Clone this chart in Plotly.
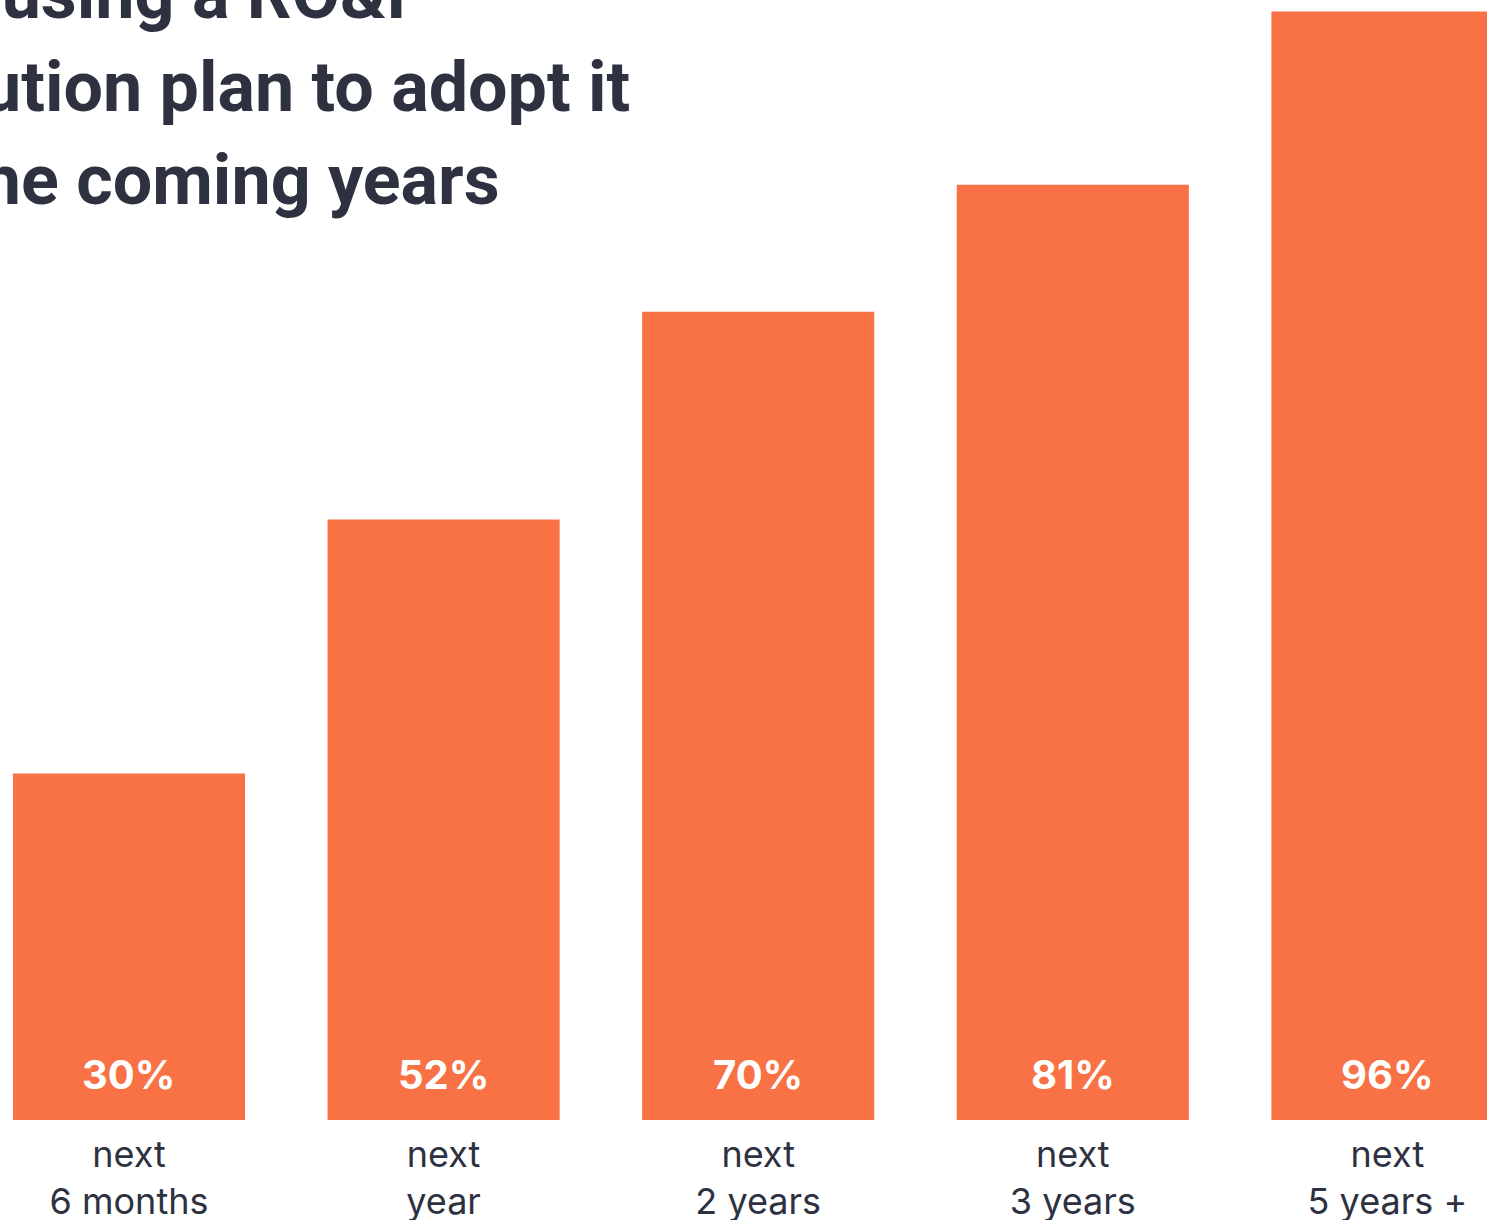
import plotly.graph_objects as go

# ---- data ----
categories = ["next<br>6 months", "next<br>year", "next<br>2 years", "next<br>3 years", "next<br>5 years +"]
values = [30, 52, 70, 81, 96]
value_labels = ["30%", "52%", "70%", "81%", "96%"]
title_lines = ["Not yet using a RO&I", "solution plan to adopt it", "in the coming years"]

W, H = 1487, 1220
BOTTOM = 100
PLOT_H = H - BOTTOM

BAR_COLOR = "#F87245"
TEXT_COLOR = "#2E3140"
FONT = "Inter"
TITLE_FONT = "Roboto"

x_idx = list(range(len(categories)))

fig = go.Figure()
fig.add_trace(go.Bar(
    x=x_idx,
    y=values,
    marker=dict(color=BAR_COLOR, line=dict(width=0)),
    hoverinfo="skip",
))

# value labels near bar base
for i, lab in zip(x_idx, value_labels):
    fig.add_annotation(
        x=i, y=0, xref="x", yref="y",
        text=f"<b>{lab}</b>", showarrow=False,
        yanchor="middle", xanchor="center", yshift=46,
        font=dict(family=FONT, size=40, color="white"),
    )

# title lines (left part cropped off-canvas), right edges in pixels
title_right_px = [408, 632, 502]
title_mid_px = [-6, 87, 180]
for line, rx, my in zip(title_lines, title_right_px, title_mid_px):
    fig.add_annotation(
        x=rx / W, y=1 - my / PLOT_H, xref="paper", yref="paper",
        text=f"<b>{line}</b>", showarrow=False,
        xanchor="right", yanchor="middle", align="left",
        font=dict(family=TITLE_FONT, size=70, color=TEXT_COLOR),
    )

fig.update_layout(
    width=W, height=H,
    margin=dict(l=0, r=0, t=0, b=BOTTOM, pad=0, autoexpand=False),
    paper_bgcolor="white", plot_bgcolor="white",
    bargap=0.2623,
    showlegend=False,
    xaxis=dict(
        range=[-0.41, 4.3166],
        tickmode="array", tickvals=x_idx, ticktext=categories,
        showgrid=False, zeroline=False, showline=False, ticks="",
        ticklabelstandoff=10, automargin=False,
        tickfont=dict(family=FONT, size=36, color=TEXT_COLOR),
        fixedrange=True,
    ),
    yaxis=dict(range=[0, 97], visible=False, fixedrange=True, automargin=False),
)

fig.write_html("out.html")
